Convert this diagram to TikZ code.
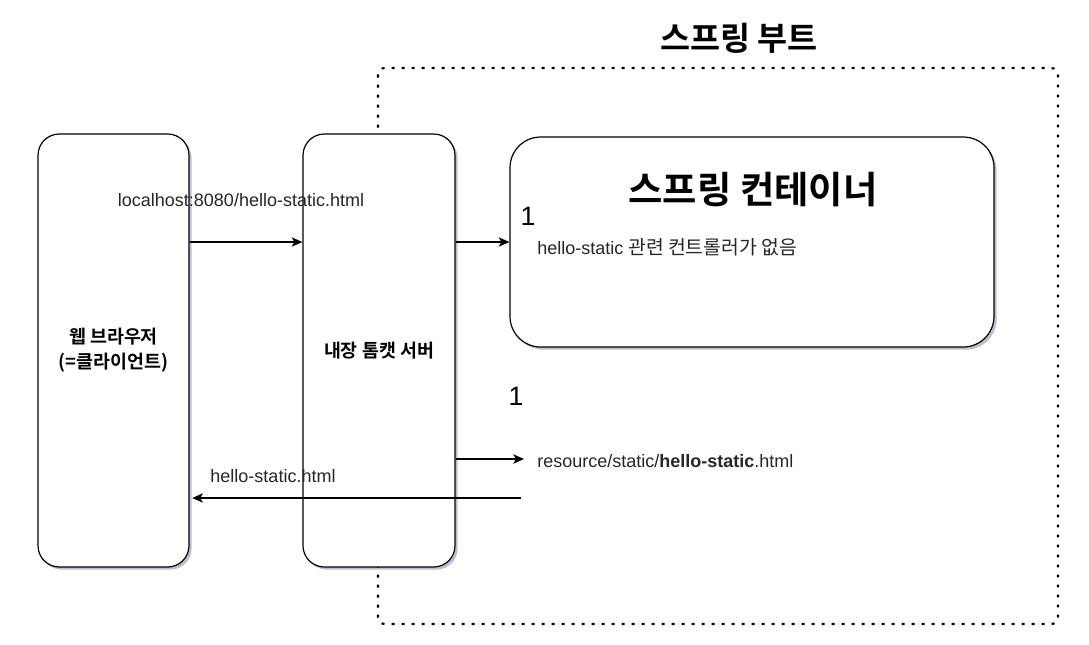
\documentclass[tikz,border=0pt]{standalone}
\usepackage{fontspec}
\setmainfont{Liberation Sans}
\newfontfamily\kr{Noto Sans CJK KR}[BoldFont={Noto Sans CJK KR Bold}]
\usetikzlibrary{positioning, arrows.meta, shadows, backgrounds}

\begin{document}
\begin{tikzpicture}[
    x=0.75pt, y=-0.75pt,
    box/.style={rectangle, draw=black, line width=0.9pt, fill=white,
                rounded corners=16pt, align=center,
                drop shadow={shadow xshift=2pt, shadow yshift=-2pt,
                             opacity=0.25, fill=blue!30!black}},
    bound/.style={draw=black, line width=1.6pt, rounded corners=5pt,
                  dash pattern=on 2.2pt off 5.3pt},
    arr/.style={-{Stealth[length=8pt, width=7pt, inset=2pt]}, line width=0.9pt},
    lbl/.style={font=\fontsize{13.5}{16}\selectfont, text=black!85, inner sep=0pt},
    boxlbl/.style={font=\kr\bfseries\fontsize{13.8}{18.75}\selectfont, align=center},
  ]
    \useasboundingbox (0,0) rectangle (1089,644);

    % Spring Boot boundary
    \node[font=\kr\bfseries\fontsize{24.5}{27}\selectfont] (boottitle) at (739,38) {스프링 부트};
    \draw[bound] (378,68) rectangle (1058,624);

    % boxes
    \node[box, minimum width=113.25pt, minimum height=324.75pt] (browser) at (113.5,350.5) {};
    \node[boxlbl] (browserlbl) at (browser.center) {웹 브라우저\\(=클라이언트)};

    \node[box, minimum width=114pt, minimum height=324.75pt] (tomcat) at (379,350.5) {};
    \node[boxlbl] (tomcatlbl) at (tomcat.center) {내장 톰캣 서버};

    \node[box, rounded corners=23pt, minimum width=363pt, minimum height=157.5pt] (container) at (752,242) {};
    \node[font=\kr\bfseries\fontsize{28}{31}\selectfont] (conttitle) at (753,190) {스프링 컨테이너};

    % request
    \coordinate (reqy) at (0,242);
    \draw[arr] (browser.east |- reqy) -- (tomcat.west |- reqy);
    \node[lbl] (reqlbl) at (241,200) {localhost:8080/hello-static.html};
    \draw[arr] (tomcat.east |- reqy) -- (container.west |- reqy);

    \node[font=\fontsize{20}{22}\selectfont] (one1) at (528,216) {1};
    \node[lbl, anchor=west] (nocontrol) at (537,247) {hello-static {\kr\fontsize{14.5}{16}\selectfont 관련 컨트롤러가 없음}};

    % static resource
    \node[font=\fontsize{20}{22}\selectfont] (one2) at (516,396) {1};
    \coordinate (resend) at (524,459);
    \draw[arr] (tomcat.east |- resend) -- (resend);
    \node[lbl, anchor=west] (reslbl) at (537,461) {resource/static/\textbf{hello-static}.html};

    % response
    \coordinate (retstart) at (521,498);
    \draw[arr] (retstart) -- ([xshift=2pt]browser.east |- retstart);
    \node[lbl] (retlbl) at (273,476) {hello-static.html};
  \end{tikzpicture}
\end{document}
